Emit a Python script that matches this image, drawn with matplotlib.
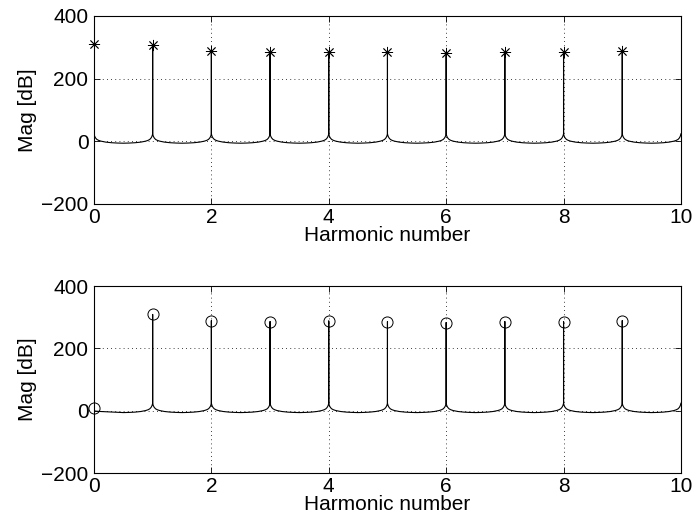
import matplotlib
matplotlib.use("Agg")
import matplotlib.pyplot as plt

plt.rcParams['font.family'] = ['Liberation Sans', 'DejaVu Sans']

# ---- data ----
harmonics = [0, 1, 2, 3, 4, 5, 6, 7, 8, 9]
top_peaks = [309, 306, 288, 285, 286, 285, 282, 284, 284, 289]          # '*' markers
bottom_peaks = [10, 309, 289, 286, 288, 286, 283, 286, 286, 289]        # 'o' markers

# shape of the floor on one side of a harmonic (offset in harmonics, level in dB)
half_offsets = [0.0, 0.004, 0.01, 0.02, 0.03, 0.05, 0.08, 0.12, 0.2, 0.3, 0.4, 0.5]
half_levels = [24, 21, 17, 13, 10, 6, 3, 0.5, -2.5, -4.5, -5.5, -6]
# bottom trace: flat start after harmonic 0 (no cusp there)
bottom_first_levels = [0, -0.3, -0.6, -1.0, -1.3, -1.7, -2.1, -2.6, -3.2, -4.2, -5.2, -6]

x_max = 10
y_ticks = [-200, 0, 200, 400]
x_ticks = [0, 2, 4, 6, 8, 10]


def build_trace(peaks, first_levels=None, spike_at_zero=True):
    xs, ys = [], []
    for k in range(0, x_max + 1):
        if k > 0:
            for d, v in zip(reversed(half_offsets[:-1]), reversed(half_levels[:-1])):
                xs.append(k - d)
                ys.append(v)
        if k < x_max:
            if k == 0 and first_levels is not None:
                levels = first_levels
            else:
                levels = half_levels
            if k > 0 or spike_at_zero:
                xs.append(k)
                ys.append(peaks[k])
            for d, v in zip(half_offsets, levels):
                xs.append(k + d)
                ys.append(v)
    return xs, ys


fig = plt.figure(figsize=(6.93, 5.24), dpi=100)
ax1 = fig.add_axes([0.1356, 0.6107, 0.847, 0.3588])
ax2 = fig.add_axes([0.1356, 0.0973, 0.847, 0.3567])

tx, ty = build_trace(top_peaks)
bx, by = build_trace(bottom_peaks, bottom_first_levels, spike_at_zero=False)

ax1.plot(tx, ty, color='black', linewidth=0.8)
ax1.plot(harmonics, top_peaks, linestyle='none', marker=(8, 2, 0),
         markersize=8, markeredgewidth=0.6, color='black', clip_on=False)

ax2.plot(bx, by, color='black', linewidth=0.8)
ax2.plot(harmonics, bottom_peaks, linestyle='none', marker='o',
         markersize=8, markerfacecolor='none', markeredgecolor='black',
         markeredgewidth=0.7, clip_on=False)

for ax in (ax1, ax2):
    ax.set_xlim(0, x_max)
    ax.set_ylim(-200, 400)
    ax.set_xticks(x_ticks)
    ax.set_yticks(y_ticks)
    ax.grid(True, linestyle=(0, (1, 4)), color='black', linewidth=0.6)
    ax.tick_params(direction='in', top=True, right=True, length=4,
                   width=0.6, labelsize=15, pad=3)
    ax.tick_params(axis='y', pad=4)
    for s in ax.spines.values():
        s.set_linewidth(0.8)
    ax.set_xlabel('Harmonic number', fontsize=15, labelpad=-1)
    ax.set_ylabel('Mag [dB]', fontsize=15, labelpad=3)

fig.savefig('out.png', dpi=100)
